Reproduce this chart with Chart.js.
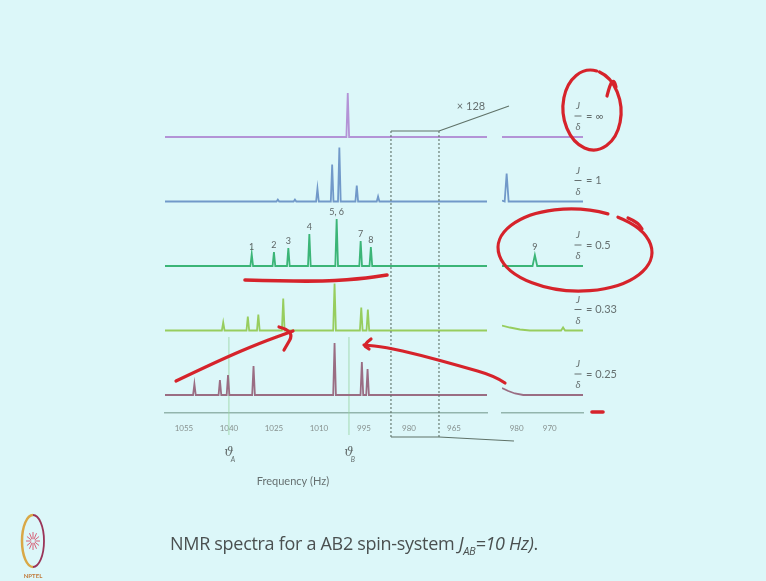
<!DOCTYPE html>
<html>
<head>
<meta charset="utf-8">
<script src="https://cdn.jsdelivr.net/npm/chart.js@4.4.0/dist/chart.umd.min.js"></script>
<style>
  html, body { margin: 0; padding: 0; width: 766px; height: 581px; overflow: hidden; background: #dcf7f9; }
  canvas { position: absolute; left: 0; top: 0; }
  #caption { position: absolute; left: 170px; top: 531px; font: 18px "Open Sans", sans-serif; color: #4a5050; white-space: nowrap; letter-spacing: -0.3px; }
  #caption sub { font-size: 11px; }
</style>
</head>
<body>
<canvas id="main" width="766" height="581"></canvas>
<canvas id="inset" width="766" height="581"></canvas>
<div id="caption">NMR spectra for a AB2 spin-system <i>J<sub>AB</sub>=10 Hz)</i>.</div>
<script>
// J/delta ratio for each trace, top to bottom
const ratioLabels = ['\u221e', '1', '0.5', '0.33', '0.25'];

// main spectra: [frequency Hz, intensity]
const peaksInf = [[1000.4, 44]];
const peaks1 = [[1023.7, 2], [1018.0, 2], [1010.5, 13], [1005.6, 37], [1003.2, 54], [997.4, 16], [990.3, 5]];
const peaks05 = [[1032.4, 12], [1025.0, 14], [1020.2, 18], [1013.2, 32], [1004.1, 47], [996.1, 25], [992.7, 19]];
const peaks033 = [[1041.9, 8], [1033.7, 14], [1030.2, 16], [1021.9, 32], [1004.8, 47], [995.9, 23], [993.7, 21]];
const peaks025 = [[1051.5, 11], [1043.0, 15], [1040.3, 20], [1031.8, 29], [1004.8, 52], [995.7, 33], [993.8, 26]];
const lineTags05 = ['1', '2', '3', '4', '5, 6', '7', '8'];

// x128 inset traces: [frequency Hz, intensity]
const insetInf = [[984.4, 0], [960, 0]];
const inset1 = [[984.4, 1], [983.6, 0], [983.0, 28], [982.4, 0], [960, 0]];
const inset05 = [[984.4, 0], [975.2, 0], [974.5, 11], [973.8, 0], [960, 0]];
const inset033 = [[984.4, 5], [982, 3], [979, 1], [976, 0], [966.6, 0], [966.0, 3], [965.4, 0], [960, 0]];
const inset025 = [[984.4, 7], [982.5, 4], [980.5, 1.5], [978, 0], [960, 0]];
const insetTag05 = '9';

// axes
const freqTicks = [1055, 1040, 1025, 1010, 995, 980, 965];
const insetTicks = [980, 970];
const mainRange = [1061.3, 954];
const insetRange = [984.4, 960];
const shiftHz = [1040, 1000];
const shiftNames = ['A', 'B'];
const zoomWindow = [986, 970];
const zoomText = '\u00d7 128';

const rowColors = ['#b393d6', '#7199c9', '#3bb577', '#97cd5e', '#9a6d83'];
const rowGap = 64.5;
const halfW = 0.45;
const red = '#d6232b';
const greyText = '#667070';

const allPeaks = [peaksInf, peaks1, peaks05, peaks033, peaks025];
const allInsets = [insetInf, inset1, inset05, inset033, inset025];
const rowOffset = i => (allPeaks.length - 1 - i) * rowGap;

function spikes(peaks, range, offset) {
  const pts = [{ x: range[0], y: offset }];
  [...peaks].sort((a, b) => b[0] - a[0]).forEach(([f, h]) => {
    pts.push({ x: f + halfW, y: offset }, { x: f, y: offset + h }, { x: f - halfW, y: offset });
  });
  pts.push({ x: range[1], y: offset });
  return pts;
}
function trace(points, offset) {
  return points.map(([f, h]) => ({ x: f, y: offset + h }));
}

function pen(ctx, pts) {
  ctx.beginPath();
  ctx.moveTo(pts[0][0], pts[0][1]);
  for (let i = 1; i < pts.length - 1; i++) {
    const mx = (pts[i][0] + pts[i + 1][0]) / 2, my = (pts[i][1] + pts[i + 1][1]) / 2;
    ctx.quadraticCurveTo(pts[i][0], pts[i][1], mx, my);
  }
  const last = pts[pts.length - 1];
  ctx.lineTo(last[0], last[1]);
  ctx.stroke();
}

function baseOptions(range, ticks, padLeft, padRight) {
  return {
    responsive: false,
    animation: false,
    layout: { padding: { left: padLeft, right: padRight, top: 80, bottom: 148 } },
    plugins: { legend: { display: false }, tooltip: { enabled: false } },
    elements: { point: { radius: 0 }, line: { tension: 0 } },
    scales: {
      x: {
        type: 'linear', reverse: true, min: range[1], max: range[0],
        grid: { display: false, drawTicks: false },
        border: { display: true, color: '#93b5ad', dash: [2, 2], width: 1.5 },
        ticks: { padding: 11, color: '#87918f', font: { family: 'Lato', size: 8 }, callback: v => String(v) },
        afterBuildTicks: s => { s.ticks = ticks.map(v => ({ value: v })); },
        afterFit: s => { s.height = 20; }
      },
      y: { display: false, min: -18, max: 315 }
    }
  };
}

const mainDecor = {
  id: 'mainDecor',
  beforeDatasetsDraw(chart) {
    const { ctx, scales: { x, y } } = chart;
    ctx.save();
    ctx.strokeStyle = 'rgba(150,212,160,0.8)';
    ctx.lineWidth = 1;
    shiftHz.forEach(f => {
      const px = x.getPixelForValue(f);
      ctx.beginPath();
      ctx.moveTo(px, y.getPixelForValue(58));
      ctx.lineTo(px, y.getPixelForValue(-40));
      ctx.stroke();
    });
    ctx.restore();
  },
  afterDatasetsDraw(chart) {
    const { ctx, scales: { x, y } } = chart;
    ctx.save();
    ctx.fillStyle = '#5d6464';
    ctx.textAlign = 'center';
    ctx.textBaseline = 'middle';
    // peak numbers on the J/delta = 0.5 trace
    ctx.font = '9px Lato';
    peaks05.forEach(([f, h], k) => {
      ctx.fillText(lineTags05[k], x.getPixelForValue(f), y.getPixelForValue(rowOffset(2) + h) - 7);
    });

    // zoom window box
    const bl = x.getPixelForValue(zoomWindow[0]), br = x.getPixelForValue(zoomWindow[1]);
    const bt = y.getPixelForValue(rowOffset(0) + 6), bb = y.getPixelForValue(-42);
    ctx.strokeStyle = '#5f7268';
    ctx.lineWidth = 1.1;
    ctx.beginPath();
    ctx.moveTo(bl, bt); ctx.lineTo(br, bt);
    ctx.moveTo(bl, bb); ctx.lineTo(br, bb);
    ctx.moveTo(br, bt); ctx.lineTo(br + 70, bt - 25);
    ctx.moveTo(br, bb); ctx.lineTo(br + 75, bb + 4);
    ctx.stroke();
    ctx.setLineDash([2, 2]);
    ctx.beginPath();
    ctx.moveTo(bl, bt); ctx.lineTo(bl, bb);
    ctx.moveTo(br, bt); ctx.lineTo(br, bb);
    ctx.stroke();
    ctx.setLineDash([]);
    ctx.font = '11px Lato';
    ctx.fillStyle = greyText;
    ctx.fillText(zoomText, br + 32, bt - 25);

    // chemical shift labels
    shiftHz.forEach((f, k) => {
      const px = x.getPixelForValue(f);
      ctx.font = 'italic 13px "DejaVu Serif"';
      ctx.fillText('\u03d1', px, x.bottom + 20);
      ctx.font = 'italic 7px Lato';
      ctx.fillText(shiftNames[k], px + 4, x.bottom + 27);
    });
    ctx.font = '11px Lato';
    const mid = (x.getPixelForValue(shiftHz[0]) + x.getPixelForValue(shiftHz[1])) / 2;
    ctx.fillText('Frequency (Hz)', mid + 4, x.bottom + 48);

    // NPTEL logo
    ctx.translate(33, 541);
    ctx.lineWidth = 2.5;
    ctx.strokeStyle = '#d9a846';
    ctx.beginPath(); ctx.ellipse(0, 0, 11, 26, 0, Math.PI * 0.5, Math.PI * 1.5); ctx.stroke();
    ctx.strokeStyle = '#9a3458';
    ctx.lineWidth = 1.8;
    ctx.beginPath(); ctx.ellipse(0, 0, 11, 26, 0, -Math.PI * 0.5, Math.PI * 0.5); ctx.stroke();
    ctx.strokeStyle = '#d6506a';
    ctx.lineWidth = 0.9;
    for (let a = 0; a < 12; a++) {
      const t = a * Math.PI / 6;
      ctx.beginPath();
      ctx.moveTo(Math.cos(t) * 2, Math.sin(t) * 2);
      ctx.lineTo(Math.cos(t) * 7, Math.sin(t) * 9);
      ctx.stroke();
    }
    ctx.fillStyle = '#c07a3a';
    ctx.font = 'bold 6px Lato';
    ctx.fillText('NPTEL', 0, 35);
    ctx.restore();
  }
};

const insetDecor = {
  id: 'insetDecor',
  afterDatasetsDraw(chart) {
    const { ctx, scales: { x, y } } = chart;
    ctx.save();
    ctx.fillStyle = '#5d6464';
    ctx.textAlign = 'center';
    ctx.textBaseline = 'middle';
    ctx.font = '9px Lato';
    const tagPeak = inset05.reduce((a, b) => (b[1] > a[1] ? b : a));
    ctx.fillText(insetTag05, x.getPixelForValue(tagPeak[0]), y.getPixelForValue(rowOffset(2) + tagPeak[1]) - 8);

    // J/delta labels
    const cx = x.right - 5;
    ratioLabels.forEach((r, i) => {
      const b = y.getPixelForValue(rowOffset(i));
      ctx.fillStyle = greyText;
      ctx.strokeStyle = greyText;
      ctx.textAlign = 'center';
      ctx.font = 'italic 10px Lato';
      ctx.fillText('J', cx, b - 31);
      ctx.fillText('\u03b4', cx, b - 10);
      ctx.lineWidth = 1;
      ctx.beginPath(); ctx.moveTo(cx - 3.5, b - 21); ctx.lineTo(cx + 3.5, b - 21); ctx.stroke();
      ctx.textAlign = 'left';
      ctx.font = '11px Lato';
      ctx.fillText('= ' + r, cx + 8, b - 21);
    });

    // red pen annotations from the lecture
    ctx.strokeStyle = red;
    ctx.lineWidth = 3.2;
    ctx.lineCap = 'round';
    ctx.lineJoin = 'round';
    ctx.beginPath(); ctx.ellipse(592, 110, 29, 40, -0.08, -1.2, 2 * Math.PI - 1.3); ctx.stroke();
    pen(ctx, [[607, 96], [610, 84], [614, 80], [616, 87]]);
    ctx.beginPath(); ctx.ellipse(575, 250, 77, 41, 0.04, -1.0, 2 * Math.PI - 1.15); ctx.stroke();
    pen(ctx, [[628, 218], [637, 222], [642, 229]]);
    ctx.lineWidth = 3.6;
    pen(ctx, [[245, 280], [310, 282], [360, 279], [387, 275]]);
    ctx.lineWidth = 3.2;
    pen(ctx, [[176, 381], [220, 360], [260, 343], [293, 331]]);
    pen(ctx, [[279, 327], [295, 331], [284, 350]]);
    pen(ctx, [[505, 383], [495, 376], [460, 366], [420, 355], [385, 347], [364, 345]]);
    pen(ctx, [[371, 339], [363, 345], [369, 349]]);
    ctx.lineWidth = 3.6;
    pen(ctx, [[592, 412], [603, 412]]);
    ctx.restore();
  }
};

new Chart(document.getElementById('main'), {
  type: 'line',
  data: {
    datasets: allPeaks.map((p, i) => ({
      data: spikes(p, mainRange, rowOffset(i)),
      borderColor: rowColors[i],
      borderWidth: 1.8,
      fill: false
    }))
  },
  options: baseOptions(mainRange, freqTicks, 165, 279),
  plugins: [mainDecor]
});

new Chart(document.getElementById('inset'), {
  type: 'line',
  data: {
    datasets: allInsets.map((p, i) => ({
      data: trace(p, rowOffset(i)),
      borderColor: rowColors[i],
      borderWidth: 1.8,
      fill: false
    }))
  },
  options: baseOptions(insetRange, insetTicks, 502, 183),
  plugins: [insetDecor]
});
</script>
</body>
</html>
